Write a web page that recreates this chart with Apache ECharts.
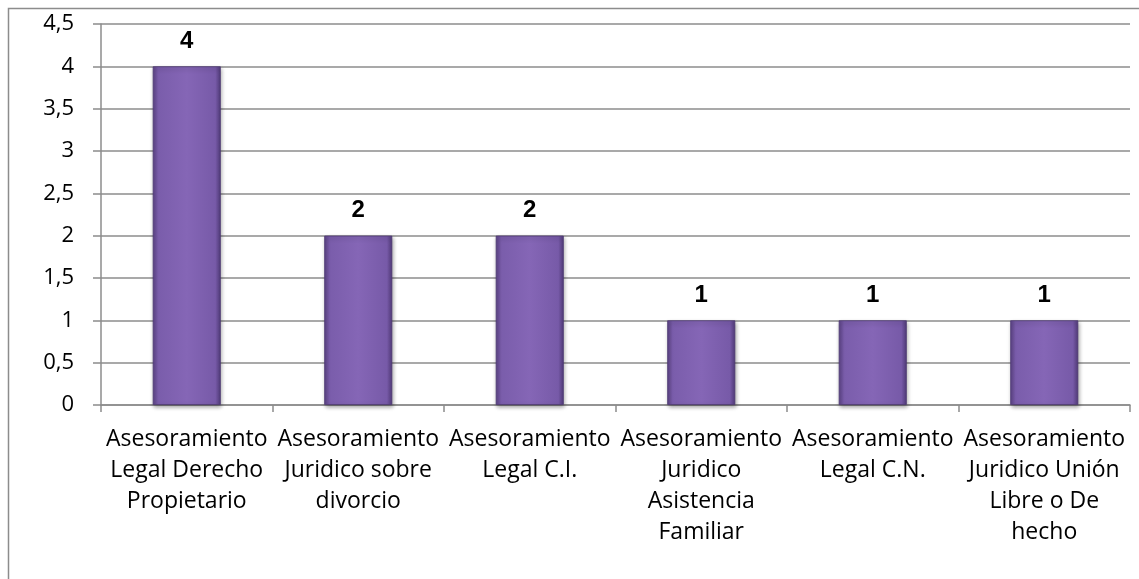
<!DOCTYPE html>
<html>
<head>
<meta charset="utf-8">
<script src="https://cdn.jsdelivr.net/npm/echarts@6/dist/echarts.min.js"></script>
<style>
  html, body { margin: 0; padding: 0; background: #fff; }
  #chart { width: 1139px; height: 579px; }
</style>
</head>
<body>
<div id="chart"></div>
<script>
// categories (line breaks as in the picture)
var categories = [
  'Asesoramiento\nLegal Derecho\nPropietario',
  'Asesoramiento\nJuridico sobre\ndivorcio',
  'Asesoramiento\nLegal C.I.',
  'Asesoramiento\nJuridico\nAsistencia\nFamiliar',
  'Asesoramiento\nLegal C.N.',
  'Asesoramiento\nJuridico Unión\nLibre o De\nhecho'
]
var values = [4, 2, 2, 1, 1, 1]

var chart = echarts.init(document.getElementById('chart'))

var barColor = new echarts.graphic.LinearGradient(0, 0, 1, 0, [
  { offset: 0, color: '#5c4385' },
  { offset: 0.08, color: '#7a5dab' },
  { offset: 0.5, color: '#8566b6' },
  { offset: 0.92, color: '#775aa8' },
  { offset: 1, color: '#523b7a' }
])

chart.setOption({
  animation: false,
  textStyle: { fontFamily: 'Open Sans' },
  graphic: [{
    type: 'rect',
    shape: { x: 8.5, y: 8.5, width: 1200, height: 700 },
    style: { fill: 'none', stroke: '#8c8c8c', lineWidth: 1.5 },
    silent: true
  }],
  grid: {
    left: 101,
    right: 9,
    top: 24,
    bottom: 174
  },
  xAxis: {
    type: 'category',
    data: categories,
    axisLine: { lineStyle: { color: '#8c8c8c', width: 1.5 } },
    axisTick: {
      show: true,
      interval: 0,
      length: 7,
      lineStyle: { color: '#8c8c8c', width: 1.5 }
    },
    axisLabel: {
      interval: 0,
      margin: 19,
      color: '#000',
      fontSize: 23,
      lineHeight: 31,
      fontFamily: 'Open Sans'
    }
  },
  yAxis: {
    type: 'value',
    min: 0,
    max: 4.5,
    interval: 0.5,
    axisLine: { show: true, lineStyle: { color: '#8c8c8c', width: 1.5 } },
    axisTick: { show: true, length: 8, lineStyle: { color: '#8c8c8c', width: 1.5 } },
    splitLine: { lineStyle: { color: '#8c8c8c', width: 1.5 } },
    axisLabel: {
      margin: 27,
      color: '#000',
      fontSize: 22,
      fontFamily: 'Open Sans',
      formatter: function (v) {
        return String(v).replace('.', ',')
      }
    }
  },
  series: [{
    type: 'bar',
    data: values,
    barWidth: 68,
    itemStyle: {
      color: barColor,
      borderColor: '#4e3874',
      borderWidth: 0.8,
      shadowColor: 'rgba(0,0,0,0.35)',
      shadowBlur: 4,
      shadowOffsetX: 1,
      shadowOffsetY: 2
    },
    label: {
      show: true,
      position: 'top',
      distance: 13,
      color: '#000',
      fontSize: 24,
      fontWeight: 'bold',
      fontFamily: 'Liberation Sans'
    }
  }]
})
</script>
</body>
</html>
